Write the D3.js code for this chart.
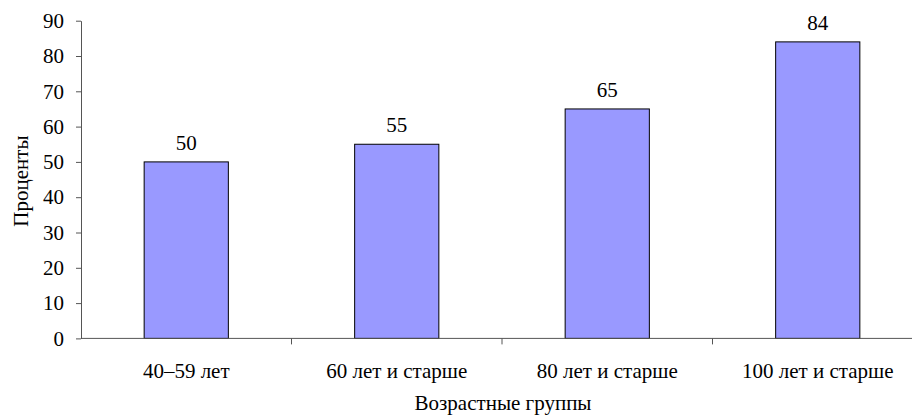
<!DOCTYPE html>
<html>
<head>
<meta charset="utf-8">
<script src="https://cdn.jsdelivr.net/npm/d3@7"></script>
<style>
  body { margin: 0; background: #fff; }
</style>
</head>
<body>
<script>
const GROUPS = ['40–59 лет', '60 лет и старше', '80 лет и старше', '100 лет и старше'];
const PERCENTS = [50, 55, 65, 84];
const Y_TICKS = [0, 10, 20, 30, 40, 50, 60, 70, 80, 90];

const [W, H] = [912, 419];
const PLOT = { left: 81, right: 923, top: 20.7, bottom: 338.4 };
const FONT = 21;
const SERIF = 'Liberation Serif, Times New Roman, serif';

const svg = d3.select('body').append('svg')
    .attr('width', W).attr('height', H)
    .attr('font-family', SERIF)
    .attr('font-size', FONT);

const xScale = d3.scaleBand()
    .domain(GROUPS)
    .range([PLOT.left, PLOT.right]);

const yScale = d3.scaleLinear()
    .domain([0, 90])
    .range([PLOT.bottom, PLOT.top]);

const barW = xScale.bandwidth() * 0.4;
const mid = g => xScale(g) + xScale.bandwidth() / 2;

// bars
svg.selectAll('rect.bar')
    .data(PERCENTS)
    .enter()
    .append('rect')
    .attr('class', 'bar')
    .attr('x', (d, i) => xScale(GROUPS[i]) + (xScale.bandwidth() - barW) / 2)
    .attr('y', d => yScale(d))
    .attr('width', barW)
    .attr('height', d => yScale(0) - yScale(d))
    .attr('fill', '#9999ff')
    .attr('stroke', '#000')
    .attr('stroke-width', 1);

// value labels
svg.selectAll('text.value')
    .data(PERCENTS)
    .enter()
    .append('text')
    .attr('class', 'value')
    .attr('x', (d, i) => mid(GROUPS[i]))
    .attr('y', d => yScale(d) - 12)
    .attr('text-anchor', 'middle')
    .text(d => d);

// y axis
const yAxis = d3.axisLeft(yScale)
    .tickValues(Y_TICKS)
    .tickSize(5)
    .tickPadding(12)
    .tickSizeOuter(0);

const gy = svg.append('g')
    .attr('transform', 'translate(' + PLOT.left + ',0)')
    .call(yAxis)
    .attr('font-family', SERIF)
    .attr('font-size', FONT);
gy.select('.domain').attr('stroke', '#555');
gy.selectAll('.tick line').attr('stroke', '#555');

// x axis: ticks at band edges
const gx = svg.append('g')
    .attr('transform', 'translate(0,' + PLOT.bottom + ')');
gx.append('line')
    .attr('x1', PLOT.left).attr('x2', PLOT.right)
    .attr('stroke', '#555');
gx.selectAll('line.edge')
    .data(GROUPS.slice(1))
    .enter()
    .append('line')
    .attr('class', 'edge')
    .attr('x1', d => xScale(d)).attr('x2', d => xScale(d))
    .attr('y1', 0).attr('y2', 6)
    .attr('stroke', '#555');
gx.selectAll('text')
    .data(GROUPS)
    .enter()
    .append('text')
    .attr('x', d => mid(d))
    .attr('y', 40)
    .attr('text-anchor', 'middle')
    .text(d => d);

// axis titles
svg.append('text')
    .attr('x', 503)
    .attr('y', 410)
    .attr('text-anchor', 'middle')
    .text('Возрастные группы');

svg.append('text')
    .attr('transform', 'translate(28,181) rotate(-90)')
    .attr('text-anchor', 'middle')
    .text('Проценты');
</script>
</body>
</html>
